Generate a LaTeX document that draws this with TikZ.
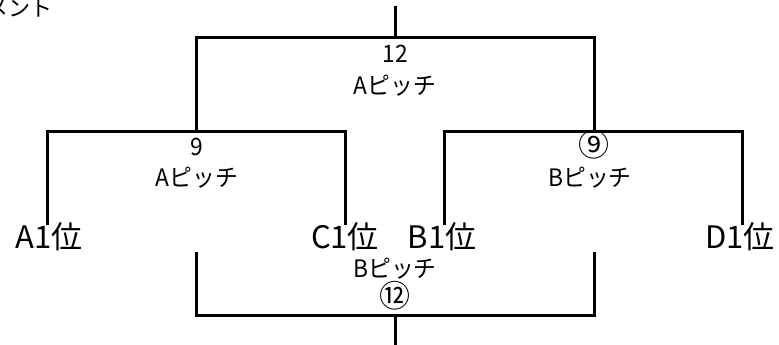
\documentclass[tikz,border=0pt]{standalone}
\usepackage{fontspec}
\setmainfont{Noto Sans CJK JP}
\newfontfamily\jpfont{Noto Sans CJK JP}
\newfontfamily\jpnarrow[FakeStretch=0.95]{Noto Sans CJK JP}
\begin{document}
\begin{tikzpicture}[x=1pt,y=-1pt,
  line/.style={line width=3pt,line join=miter,line cap=rect},
  team/.style={inner sep=0pt,anchor=base,font=\jpfont\fontsize{31}{34}\selectfont},
  lbl/.style={inner sep=0pt,anchor=base,font=\jpnarrow\fontsize{24}{27}\selectfont},
  circ/.style={inner sep=0pt,anchor=center,font=\jpfont\fontsize{31}{34}\selectfont}]
\clip (0,0) rectangle (779,345);
\useasboundingbox (0,0) rectangle (779,345);
% coordinates
\coordinate (topstem) at (395,8);
\coordinate (topmid) at (395,38);
\coordinate (tl) at (196,38);
\coordinate (tr) at (594,38);
\coordinate (lmid) at (196,131);
\coordinate (rmid) at (594,131);
\coordinate (la) at (47,131);
\coordinate (lc) at (345,131);
\coordinate (rb) at (444,131);
\coordinate (rd) at (742,131);
\coordinate (aend) at (47,223);
\coordinate (cend) at (345,223);
\coordinate (bend) at (444,223);
\coordinate (dend) at (742,223);
\coordinate (bl) at (196,253);
\coordinate (br) at (594,253);
\coordinate (bll) at (196,315);
\coordinate (brr) at (594,315);
\coordinate (botmid) at (395,315);
\coordinate (botstem) at (395,345);
% lines
\draw[line] (topstem) -- (topmid);
\draw[line] (lmid) -- (tl) -- (tr) -- (rmid);
\draw[line] (aend) -- (la) -- (lc) -- (cend);
\draw[line] (bend) -- (rb) -- (rd) -- (dend);
\draw[line] (bl) -- (bll) -- (brr) -- (br);
\draw[line] (botmid) -- (botstem);
% labels
\node[inner sep=0pt,anchor=base east,font=\jpfont\fontsize{22}{24}\selectfont] (title) at (53,17) {メント};
\node[lbl] (n12) at (395,63) {12};
\node[lbl] (pA1) at (395,95) {Aピッチ};
\node[lbl] (n9) at (197,155) {9};
\node[lbl] (pA2) at (197,186) {Aピッチ};
\node[circ] (c9) at (594,145) {⑨};
\node[lbl] (pB1) at (590,186) {Bピッチ};
\node[team] (A1) at (49,248) {A1位};
\node[team] (C1) at (345,248) {C1位};
\node[team] (B1) at (442,248) {B1位};
\node[team] (D1) at (740,248) {D1位};
\node[lbl] (pB2) at (395,277) {Bピッチ};
\node[circ] (c12) at (395,296) {⑫};
\end{tikzpicture}
\end{document}
